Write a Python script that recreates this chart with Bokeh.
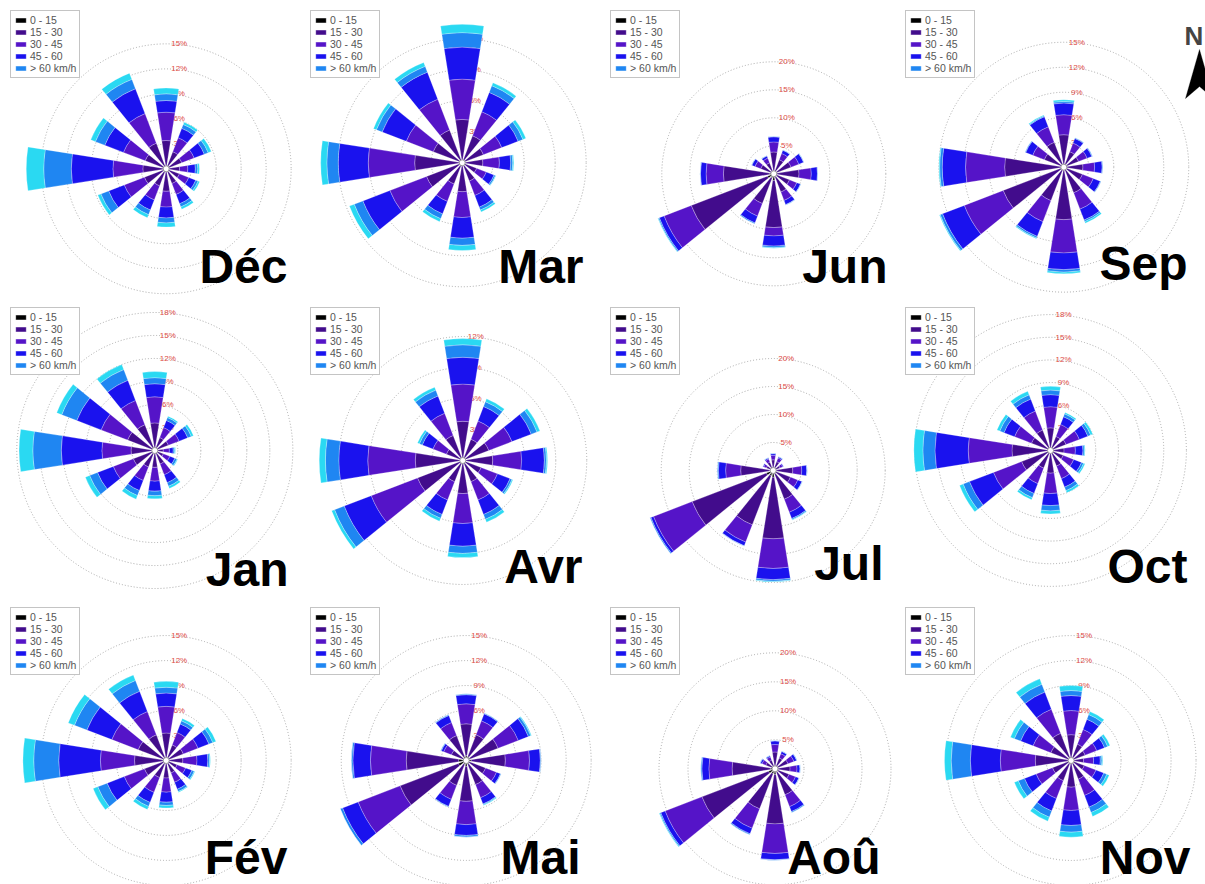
import numpy as np
from bokeh.plotting import figure
from bokeh.models import Range1d, Label, Legend, LegendItem, ColumnDataSource, PolyAnnotation
from bokeh.layouts import column, row
from bokeh.transform import stack
from bokeh.core.properties import value
from bokeh.embed import file_html
from bokeh.resources import INLINE

# ---------------- data ----------------
DIRECTIONS = [0, 30, 60, 90, 120, 150, 180, 210, 240, 270, 300, 330]   # degrees from North, clockwise
SPEED_LABELS = ["0 - 15", "15 - 30", "30 - 45", "45 - 60", "> 60 km/h"]
# frequency (%) per speed class (rows: 0-15, 15-30, 30-45, 45-60, >60, strongest) per direction (columns)
DEC = [[0.3, 0.2, 0.2, 0.2, 0.2, 0.2, 0.3, 0.2, 0.2, 0.3, 0.3, 0.3],
       [3.1, 2.0, 1.8, 1.4, 1.5, 1.7, 2.4, 2.0, 2.6, 2.5, 2.4, 3.0],
       [3.4, 1.8, 1.6, 1.0, 1.2, 1.4, 1.9, 1.8, 2.6, 3.6, 2.8, 3.8],
       [1.4, 1.2, 1.3, 0.9, 0.9, 1.2, 1.3, 1.3, 2.0, 5.0, 2.4, 3.2],
       [0.8, 0.5, 0.5, 0.3, 0.3, 0.4, 0.6, 0.6, 1.0, 3.3, 1.2, 1.2],
       [0.7, 0.3, 0.4, 0.2, 0.2, 0.3, 0.5, 0.4, 0.4, 2.1, 0.6, 0.8]]
JAN = [[0.3, 0.2, 0.2, 0.2, 0.2, 0.2, 0.2, 0.2, 0.2, 0.3, 0.3, 0.3],
       [3.3, 1.6, 1.7, 0.9, 1.0, 1.7, 2.0, 2.1, 2.8, 2.8, 3.5, 3.3],
       [3.4, 1.4, 1.5, 0.8, 0.9, 1.5, 1.8, 1.9, 2.8, 3.8, 3.7, 3.4],
       [1.7, 1.0, 1.2, 0.5, 0.7, 1.1, 1.3, 1.4, 2.2, 5.3, 3.4, 2.8],
       [0.8, 0.4, 0.5, 0.2, 0.3, 0.5, 0.6, 0.7, 1.1, 3.7, 2.1, 1.5],
       [0.8, 0.2, 0.3, 0.1, 0.1, 0.3, 0.4, 0.5, 0.6, 1.8, 0.7, 0.7]]
FEV = [[0.3, 0.2, 0.2, 0.2, 0.2, 0.2, 0.2, 0.2, 0.2, 0.3, 0.3, 0.3],
       [3.0, 1.8, 2.0, 1.8, 1.2, 1.4, 1.9, 2.0, 2.6, 3.5, 3.3, 3.0],
       [3.2, 1.6, 1.9, 1.7, 1.1, 1.2, 1.7, 1.9, 2.6, 4.1, 3.4, 3.0],
       [1.6, 1.1, 1.4, 1.3, 0.8, 0.9, 1.2, 1.3, 2.2, 5.0, 3.2, 2.6],
       [0.7, 0.4, 0.5, 0.2, 0.3, 0.3, 0.4, 0.5, 1.2, 3.0, 1.6, 1.4],
       [0.7, 0.3, 0.4, 0.1, 0.1, 0.1, 0.3, 0.4, 0.6, 1.3, 0.8, 0.7]]
MAR = [[0.2, 0.2, 0.2, 0.2, 0.2, 0.2, 0.2, 0.2, 0.2, 0.2, 0.2, 0.2],
       [4.0, 2.6, 2.0, 1.8, 1.3, 1.7, 2.6, 2.0, 3.5, 4.4, 2.8, 3.2],
       [3.9, 2.5, 1.9, 1.6, 1.0, 1.5, 2.5, 1.8, 3.8, 4.5, 2.8, 3.2],
       [3.1, 2.0, 1.7, 1.1, 0.8, 1.2, 2.0, 1.3, 2.8, 2.9, 2.5, 2.8],
       [1.4, 0.7, 0.5, 0.2, 0.15, 0.3, 0.7, 0.5, 0.9, 1.1, 0.6, 0.6],
       [0.8, 0.3, 0.3, 0.1, 0.05, 0.2, 0.5, 0.3, 0.5, 0.6, 0.3, 0.4]]
AVR = [[0.2, 0.2, 0.2, 0.2, 0.2, 0.2, 0.2, 0.2, 0.2, 0.2, 0.2, 0.2],
       [3.6, 2.0, 2.5, 2.7, 1.7, 2.0, 3.0, 2.0, 4.5, 4.4, 1.5, 2.4],
       [3.6, 1.9, 2.4, 2.8, 1.7, 1.9, 2.9, 1.9, 4.8, 4.6, 1.4, 2.3],
       [2.6, 1.5, 2.0, 2.2, 1.3, 1.5, 2.2, 1.5, 2.8, 2.8, 1.1, 1.8],
       [1.2, 0.5, 0.6, 0.2, 0.2, 0.5, 0.7, 0.4, 1.0, 1.3, 0.3, 0.6],
       [0.6, 0.3, 0.3, 0.1, 0.1, 0.3, 0.4, 0.3, 0.3, 0.6, 0.2, 0.3]]
MAI = [[0.6, 0.5, 0.5, 0.6, 0.4, 0.5, 0.7, 0.5, 1.0, 0.9, 0.4, 0.5],
       [3.8, 2.8, 3.6, 4.1, 2.1, 2.6, 4.2, 2.7, 7.5, 6.3, 1.5, 2.7],
       [2.4, 1.8, 2.6, 2.9, 1.4, 1.7, 2.8, 1.8, 5.4, 4.3, 1.0, 1.7],
       [1.1, 0.9, 1.3, 1.3, 0.5, 0.8, 1.3, 0.9, 2.0, 2.1, 0.3, 0.9],
       [0.1, 0.1, 0.3, 0.1, 0.1, 0.1, 0.2, 0.1, 0.3, 0.2, 0.1, 0.1],
       [0.0, 0.0, 0.1, 0.0, 0.0, 0.1, 0.0, 0.0, 0.0, 0.0, 0.0, 0.0]]
JUN = [[0.5, 0.4, 0.4, 0.5, 0.4, 0.5, 1.2, 0.8, 1.2, 0.8, 0.4, 0.4],
       [3.4, 2.3, 2.9, 4.0, 2.6, 3.0, 8.4, 4.9, 14.6, 8.2, 2.1, 1.7],
       [1.8, 1.2, 1.5, 2.2, 1.4, 1.6, 1.5, 2.4, 5.2, 3.1, 1.1, 0.9],
       [0.9, 0.6, 0.9, 1.1, 0.7, 0.8, 1.8, 1.3, 0.9, 1.0, 0.6, 0.4],
       [0.1, 0.1, 0.1, 0.1, 0.1, 0.1, 0.3, 0.2, 0.2, 0.1, 0.1, 0.1],
       [0.0, 0.0, 0.0, 0.0, 0.0, 0.0, 0.1, 0.0, 0.1, 0.0, 0.0, 0.0]]
JUL = [[0.4, 0.4, 0.3, 0.5, 0.5, 0.7, 1.2, 1.0, 1.3, 0.6, 0.3, 0.3],
       [1.5, 1.3, 1.0, 3.0, 2.8, 4.8, 11.0, 9.4, 14.2, 5.2, 1.0, 1.3],
       [0.8, 0.7, 0.5, 1.6, 1.4, 2.5, 5.3, 3.3, 7.4, 2.7, 0.5, 0.6],
       [0.3, 0.2, 0.2, 0.9, 0.8, 1.2, 2.0, 0.7, 0.5, 1.3, 0.2, 0.2],
       [0.1, 0.1, 0.0, 0.1, 0.1, 0.2, 0.3, 0.1, 0.2, 0.2, 0.0, 0.1],
       [0.0, 0.0, 0.0, 0.0, 0.0, 0.1, 0.1, 0.0, 0.0, 0.0, 0.0, 0.0]]
AOU = [[0.4, 0.4, 0.4, 0.4, 0.4, 0.6, 1.0, 0.9, 1.2, 0.8, 0.3, 0.3],
       [2.5, 1.6, 2.0, 2.2, 2.2, 4.2, 8.5, 6.5, 12.3, 6.6, 1.4, 1.3],
       [1.3, 0.8, 1.1, 1.2, 1.2, 2.2, 5.1, 3.6, 6.8, 4.0, 0.7, 0.6],
       [0.6, 0.4, 0.5, 0.5, 0.6, 0.9, 1.1, 1.0, 0.8, 1.2, 0.3, 0.2],
       [0.1, 0.1, 0.1, 0.1, 0.1, 0.2, 0.1, 0.2, 0.2, 0.2, 0.1, 0.1],
       [0.0, 0.0, 0.0, 0.0, 0.0, 0.0, 0.0, 0.0, 0.1, 0.0, 0.0, 0.0]]
SEP = [[0.3, 0.3, 0.3, 0.3, 0.3, 0.3, 0.3, 0.3, 0.3, 0.3, 0.3, 0.3],
       [3.6, 1.7, 1.6, 2.0, 2.1, 3.0, 6.0, 4.0, 7.5, 6.8, 2.2, 2.9],
       [2.4, 1.1, 1.1, 1.4, 1.4, 2.1, 4.0, 2.7, 5.0, 4.7, 1.5, 2.0],
       [1.4, 0.6, 0.6, 0.9, 0.9, 1.4, 2.0, 1.9, 2.8, 2.8, 0.9, 1.3],
       [0.2, 0.1, 0.1, 0.1, 0.1, 0.2, 0.3, 0.2, 0.3, 0.3, 0.1, 0.1],
       [0.2, 0.0, 0.0, 0.0, 0.0, 0.2, 0.2, 0.1, 0.1, 0.1, 0.0, 0.1]]
OCT = [[0.3, 0.2, 0.2, 0.2, 0.2, 0.2, 0.2, 0.2, 0.3, 0.3, 0.2, 0.2],
       [2.7, 1.8, 2.0, 1.6, 1.6, 2.0, 2.8, 2.3, 3.8, 4.8, 2.5, 2.7],
       [2.8, 1.7, 1.9, 1.5, 1.5, 1.8, 2.7, 2.2, 4.0, 5.8, 2.4, 2.7],
       [1.6, 1.1, 1.2, 1.0, 1.1, 1.2, 1.6, 1.4, 3.4, 4.4, 1.5, 1.7],
       [0.6, 0.4, 0.4, 0.2, 0.3, 0.5, 0.7, 0.6, 0.9, 1.6, 0.6, 0.6],
       [0.5, 0.2, 0.3, 0.1, 0.2, 0.3, 0.4, 0.3, 0.5, 1.2, 0.4, 0.5]]
NOV = [[0.3, 0.2, 0.2, 0.2, 0.2, 0.2, 0.3, 0.2, 0.2, 0.3, 0.2, 0.3],
       [2.8, 1.9, 1.6, 1.3, 1.5, 2.2, 2.9, 2.4, 2.2, 4.0, 2.4, 3.2],
       [2.9, 1.9, 1.5, 1.2, 1.5, 2.1, 2.8, 2.3, 2.1, 4.2, 2.3, 3.1],
       [1.8, 1.3, 1.0, 0.8, 1.0, 1.5, 1.8, 1.6, 1.5, 3.6, 1.6, 2.2],
       [0.6, 0.6, 0.4, 0.2, 0.4, 0.7, 0.8, 0.8, 0.8, 2.3, 0.8, 1.0],
       [0.6, 0.4, 0.3, 0.1, 0.3, 0.5, 0.6, 0.5, 0.5, 0.8, 0.5, 0.7]]

MONTH_NAMES = ["Déc", "Mar", "Jun", "Sep",
               "Jan", "Avr", "Jul", "Oct",
               "Fév", "Mai", "Aoû", "Nov"]
MONTH_DATA = [DEC, MAR, JUN, SEP, JAN, AVR, JUL, OCT, FEV, MAI, AOU, NOV]
RINGS_A = [3, 6, 9, 12, 15]
RINGS_B = [3, 6, 9, 12]
RINGS_C = [5, 10, 15, 20]
RINGS_D = [3, 6, 9, 12, 15, 18]
MONTH_RINGS = [RINGS_A, RINGS_B, RINGS_C, RINGS_A,
               RINGS_D, RINGS_B, RINGS_C, RINGS_D,
               RINGS_A, RINGS_A, RINGS_C, RINGS_A]

# ---------------- layout / style (reference pixel geometry) ----------------
XB = [0, 300, 600, 895, 1205]
YB = [0, 297, 597, 884]
# centre (x, y) in page px, px per percent
CENTRES = [(165.7, 168.3), (461.7, 162.3), (773.3, 173.3), (1063.3, 166.7),
           (154.3, 450.0), (462.3, 460.0), (772.7, 470.0), (1050.0, 450.0),
           (165.7, 760.0), (465.7, 760.0), (774.5, 768.3), (1070.6, 760.0)]
SCALES = [8.33, 10.33, 5.6, 8.33, 7.67, 10.33, 5.6, 7.55, 8.33, 8.33, 5.8, 8.33]
# month label: right edge x, vertical centre y (page px)
LABEL_POS = [(287, 266), (583, 266), (887, 266), (1187, 263),
             (288, 569), (582, 566), (883, 563), (1187, 566),
             (287, 857), (580, 857), (880, 857), (1190, 857)]

COLORS = ["#000000", "#420c8c", "#5514c8", "#1a12ee", "#1f86f2", "#2ad9f2"]
WEDGE_HALF = np.radians(9.0)
FONT = "Liberation Sans"


def make_panel(idx):
    r_i, c_i = divmod(idx, 4)
    L, R = XB[c_i], XB[c_i + 1]
    T, B = YB[r_i], YB[r_i + 1]
    w, h = R - L, B - T
    cx, cy = CENTRES[idx]
    k = SCALES[idx]
    p = figure(width=w, height=h, output_backend="svg", toolbar_location=None,
               x_range=Range1d((L - cx) / k, (R - cx) / k),
               y_range=Range1d((cy - B) / k, (cy - T) / k),
               min_border=0, outline_line_color=None,
               background_fill_color="white", border_fill_color="white")
    p.axis.visible = False
    p.grid.visible = False

    rings = MONTH_RINGS[idx]
    rsrc = ColumnDataSource(dict(x=[0] * len(rings), r=rings,
                                 lab=[f"{v}%" for v in rings]))
    p.circle(x="x", y="x", radius="r", source=rsrc, fill_color=None,
             line_color="#a8a8a8", line_dash="1 2", line_width=1)
    p.text(x="x", y="r", text="lab", source=rsrc, x_offset=13,
           text_align="center", text_baseline="middle",
           text_color="#dd4a44", text_font_size="8px",
           text_font=value(FONT))

    data = MONTH_DATA[idx]
    ang = np.radians(90 - np.array(DIRECTIONS, dtype=float))
    cols = dict(start=ang - WEDGE_HALF, end=ang + WEDGE_HALF)
    fields = []
    for i, vals in enumerate(data):
        cols[f"c{i}"] = vals
        fields.append(f"c{i}")
    src = ColumnDataSource(cols)
    rends = []
    for i in range(len(fields)):
        inner = stack(*fields[:i]) if i > 0 else 0
        rr = p.annular_wedge(x=0, y=0, inner_radius=inner,
                             outer_radius=stack(*fields[:i + 1]),
                             start_angle="start", end_angle="end", source=src,
                             fill_color=COLORS[i], line_color="white",
                             line_width=0.5, line_alpha=0.5)
        rends.append(rr)
    p.scatter(x=[0], y=[0], size=6, fill_color="white", line_color="#9a9a9a")

    legend = Legend(items=[LegendItem(label=SPEED_LABELS[i], renderers=[rends[i]])
                           for i in range(len(SPEED_LABELS))],
                    location="top_left", margin=10, padding=3, spacing=0,
                    label_height=11, glyph_height=6, glyph_width=13,
                    label_standoff=3, label_text_font=FONT,
                    label_text_font_size="10.5px", label_text_color="#555555",
                    border_line_color="#8a8a8a", border_line_width=1,
                    background_fill_color="white", background_fill_alpha=1.0)
    p.add_layout(legend)

    lx, ly = LABEL_POS[idx]
    p.add_layout(Label(x=lx - L, y=B - ly, x_units="screen", y_units="screen",
                       text=MONTH_NAMES[idx], text_font=FONT,
                       text_font_size="48px", text_font_style="bold",
                       text_color="black", text_align="right",
                       text_baseline="middle"))

    if idx == 3:  # north arrow
        p.add_layout(Label(x=1184 - L, y=B - 35, x_units="screen",
                           y_units="screen", text="N", text_font=FONT,
                           text_font_size="26px", text_font_style="bold",
                           text_align="left", text_baseline="middle"))
        ax = [1199, 1185, 1199, 1213]
        ay = [49, 98, 86, 98]
        p.add_layout(PolyAnnotation(xs=[a - L for a in ax],
                                    ys=[B - b for b in ay],
                                    xs_units="screen", ys_units="screen",
                                    fill_color="black", fill_alpha=1.0,
                                    line_color="black"))
    return p


figs = [make_panel(i) for i in range(12)]
layout = column(row(*figs[0:4]), row(*figs[4:8]), row(*figs[8:12]))
open("out.html", "w").write(file_html(layout, INLINE))
